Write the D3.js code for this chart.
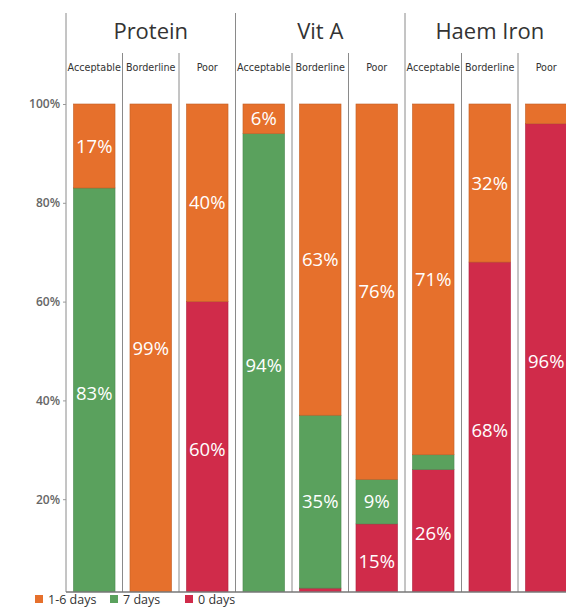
<!DOCTYPE html>
<html>
<head>
<meta charset="utf-8">
<script src="https://cdn.jsdelivr.net/npm/d3@7"></script>
<style>
    body { margin: 0; background: #fff; }
    svg { display: block; font-family: "Open Sans", sans-serif; }
</style>
</head>
<body>
<svg id="chart"></svg>
<script>
// data (percent of each column)
const nutrients = ['Protein', 'Vit A', 'Haem Iron']
const statuses = ['Acceptable', 'Borderline', 'Poor']
const days16 = [17, 99, 40, 6, 63, 76, 71, 32, 4]
const days7 = [83, 1, 0, 94, 35, 9, 3, 0, 0]
const days0 = [0, 0, 60, 0, 2, 15, 26, 68, 96]
const yTicks = [20, 40, 60, 80, 100]
const legendLabels = ['1-6 days', '7 days', '0 days']

const width = 566
const height = 608
const colors = { d16: '#e6702c', d7: '#5aa15d', d0: '#d02b4a' }

const left = 66, right = 574.5, bottom = 592
const headerTop = 13, subTop = 53

const svg = d3.select('#chart')
    .attr('width', width)
    .attr('height', height)

// one row per column, nutrient x status
const rows = []
nutrients.forEach((n, i) => {
    statuses.forEach((s, j) => {
        const k = i * 3 + j
        rows.push({ key: n + '|' + s, nutrient: n, status: s, d0: days0[k], d7: days7[k], d16: days16[k] })
    })
})

const x = d3.scaleBand()
    .domain(rows.map(d => d.key))
    .range([left, right])
    .paddingInner(0.265)
    .paddingOuter(0.1325)

const xGroup = d3.scaleBand()
    .domain(nutrients)
    .range([left, right])

const y = d3.scaleLinear()
    .domain([0, 100])
    .range([598, 104])

const stack = d3.stack().keys(['d0', 'd7', 'd16'])
const series = stack(rows)

svg.append('clipPath')
    .attr('id', 'pane')
    .append('rect')
    .attr('x', left)
    .attr('y', 0)
    .attr('width', width - left)
    .attr('height', bottom)

// separators
const step = x.step()
const grid = svg.append('g').attr('stroke', '#8a8a8a').attr('stroke-width', 1)
rows.forEach((d, i) => {
    const xx = left + i * step
    const isGroup = i % 3 === 0
    grid.append('line')
        .attr('x1', xx).attr('x2', xx)
        .attr('y1', isGroup ? headerTop : subTop)
        .attr('y2', bottom)
})

// bars
const bars = svg.append('g').attr('clip-path', 'url(#pane)')
series.forEach(s => {
    bars.append('g')
        .attr('fill', colors[s.key])
        .attr('stroke', d3.color(colors[s.key]).darker(0.5))
        .attr('stroke-width', 0.6)
        .selectAll('rect')
        .data(s.filter(d => d[1] > d[0]))
        .join('rect')
        .attr('x', d => x(d.data.key))
        .attr('width', x.bandwidth())
        .attr('y', d => y(d[1]))
        .attr('height', d => y(d[0]) - y(d[1]))
})

// value labels, only where the segment is big enough
series.forEach(s => {
    bars.append('g')
        .selectAll('text')
        .data(s.filter(d => d[1] - d[0] >= 5))
        .join('text')
        .attr('x', d => x(d.data.key) + x.bandwidth() / 2)
        .attr('y', d => (y(d[0]) + y(d[1])) / 2)
        .attr('dy', '0.36em')
        .attr('text-anchor', 'middle')
        .attr('fill', '#fff')
        .style('font-size', '18.5px')
        .text(d => (d[1] - d[0]) + '%')
})

// frame
svg.append('line')
    .attr('x1', left).attr('x2', width)
    .attr('y1', bottom).attr('y2', bottom)
    .attr('stroke', '#777')
    .attr('stroke-width', 1.5)

// y axis
const yAxis = svg.append('g')
    .attr('transform', `translate(${left},0)`)
    .call(d3.axisLeft(y).tickValues(yTicks).tickSize(3).tickPadding(3).tickFormat(d => d + '%'))
yAxis.select('.domain').remove()
yAxis.selectAll('line').attr('stroke', '#999')
yAxis.selectAll('text')
    .attr('fill', '#666')
    .style('font-size', '12px')
    .style('font-weight', 600)
    .style('font-family', '"Open Sans", sans-serif')

// headers
svg.append('g')
    .selectAll('text')
    .data(nutrients)
    .join('text')
    .attr('x', d => xGroup(d) + xGroup.bandwidth() / 2)
    .attr('y', 39)
    .attr('text-anchor', 'middle')
    .attr('fill', '#333')
    .style('font-size', '22px')
    .text(d => d)

svg.append('g')
    .selectAll('text')
    .data(rows)
    .join('text')
    .attr('x', d => x(d.key) + x.bandwidth() / 2)
    .attr('y', 71)
    .attr('text-anchor', 'middle')
    .attr('fill', '#333')
    .style('font-family', '"DejaVu Sans Condensed", "Liberation Sans Narrow", sans-serif')
    .style('font-size', '10.7px')
    .text(d => d.status)

// legend
const legendKeys = ['d16', 'd7', 'd0']
const legendX = [35, 110, 185]
const legend = svg.append('g')
legendLabels.forEach((label, i) => {
    const g = legend.append('g').attr('transform', `translate(${legendX[i]},595)`)
    g.append('rect')
        .attr('width', 8)
        .attr('height', 8)
        .attr('fill', colors[legendKeys[i]])
    g.append('text')
        .attr('x', 13)
        .attr('y', 9)
        .attr('fill', '#333')
        .style('font-size', '12.5px')
        .text(label)
})
</script>
</body>
</html>
